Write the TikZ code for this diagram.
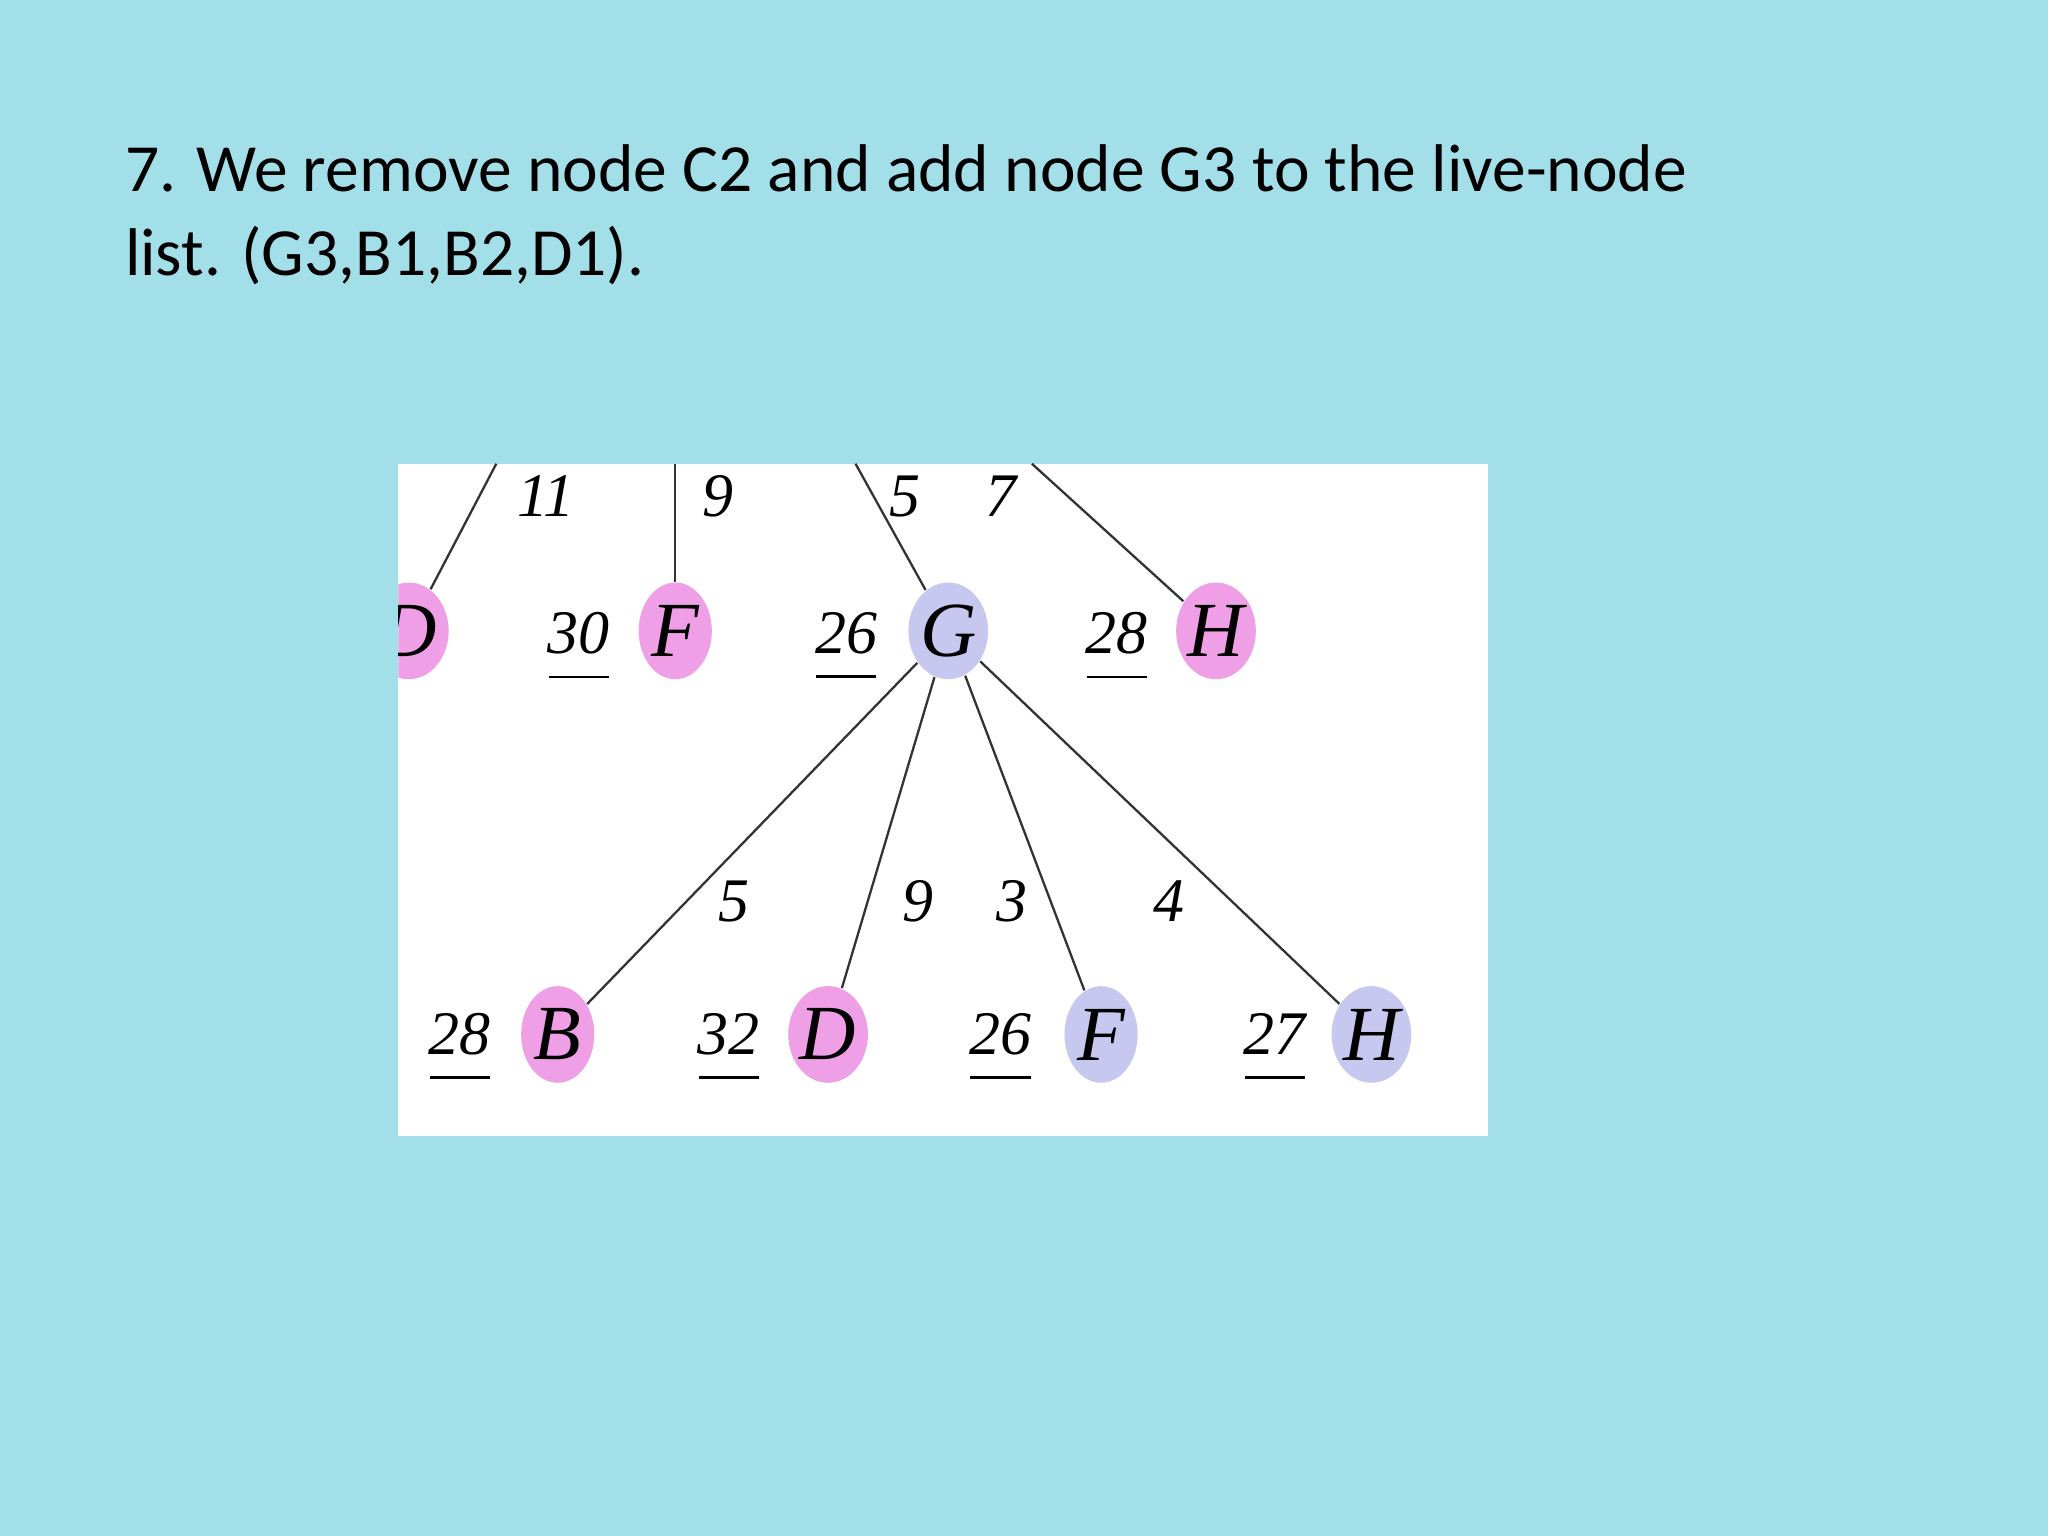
\documentclass[tikz,border=0pt]{standalone}
\usepackage{fontspec}
\setmainfont{Carlito}
\newfontfamily\tms{Liberation Serif}
\usetikzlibrary{shapes.geometric}
\definecolor{bgc}{HTML}{A3DFE8}
\definecolor{pk}{HTML}{EE9FE6}
\definecolor{lv}{HTML}{C6C8F0}
\tikzset{
 nd/.style={ellipse,minimum width=5.6mm,minimum height=7.4mm,inner sep=0pt,font=\tms\itshape\fontsize{17}{17}\selectfont},
 pnd/.style={nd,fill=pk},
 lnd/.style={nd,fill=lv},
 cost/.style={font=\tms\itshape\fontsize{13.5}{13.5}\selectfont,inner sep=1pt},
 ed/.style={draw=black!80,line width=0.5pt}
}
\newcommand{\cst}[3]{\node[cost] (#1) at #2 {#3}; \draw[line width=0.6pt] ([xshift=-2.3mm,yshift=-1.3mm]#1.south) -- ([xshift=2.3mm,yshift=-1.3mm]#1.south);}
\begin{document}
\begin{tikzpicture}[x=0.1mm,y=-0.1mm]
\fill[bgc] (0,0) rectangle (1568,1176);
\useasboundingbox (0,0) rectangle (1568,1176);
\node[anchor=north west,align=left,font=\fontsize{14.7}{18.4}\selectfont,inner sep=0pt] (title) at (95,110) {7. We remove node C2 and add node G3 to the live-node\\list. (G3,B1,B2,D1).};
\fill[white] (305,355) rectangle (1139,870);
\begin{scope}
\clip (305,355) rectangle (1139,870);
\coordinate (t1) at (380,355); \coordinate (t2) at (517,355);
\coordinate (t3) at (655,355); \coordinate (t4) at (790,355);
\node[pnd] (D0) at (313,483) {D};
\node[pnd] (F0) at (517,483) {F};
\node[lnd] (G0) at (726,483) {G};
\node[pnd] (H0) at (931,483) {H};
\node[pnd] (B1) at (427,792) {B};
\node[pnd] (D1) at (634,792) {D};
\node[lnd] (F1) at (843,792) {F};
\node[lnd] (H1) at (1050,792) {H};
\draw[ed] (t1) -- (D0); \draw[ed] (t2) -- (F0);
\draw[ed] (t3) -- (G0); \draw[ed] (t4) -- (H0);
\foreach \c in {B1,D1,F1,H1} \draw[ed] (G0) -- (\c);
\node[cost] (e1) at (418,380) {11}; \node[cost] (e2) at (550,380) {9};
\node[cost] (e3) at (693,380) {5}; \node[cost] (e4) at (766,380) {7};
\node[cost] (e5) at (562,690) {5}; \node[cost] (e6) at (703,690) {9};
\node[cost] (e7) at (775,690) {3}; \node[cost] (e8) at (895,690) {4};
\cst{c1}{(443,485)}{30} \cst{c2}{(648,485)}{26} \cst{c3}{(855,485)}{28}
\cst{c4}{(352,792)}{28} \cst{c5}{(558,792)}{32} \cst{c6}{(766,792)}{26} \cst{c7}{(976,792)}{27}
\end{scope}
\end{tikzpicture}
\end{document}
